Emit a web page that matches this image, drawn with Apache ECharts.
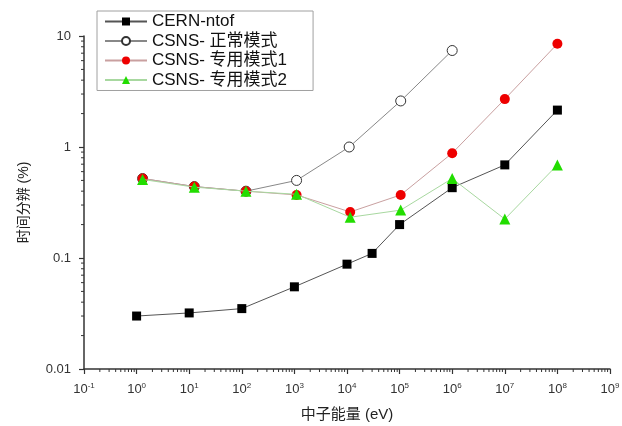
<!DOCTYPE html>
<html>
<head>
<meta charset="utf-8">
<script src="https://cdn.jsdelivr.net/npm/echarts@6/dist/echarts.min.js"></script>
<style>
  html, body { margin: 0; padding: 0; background: #fff; }
  #chart { width: 622px; height: 426px; }
</style>
</head>
<body>
<div id="chart"></div>
<script>
// Time resolution vs neutron energy
const seriesNames = ['CERN-ntof', 'CSNS- 正常模式', 'CSNS- 专用模式1', 'CSNS- 专用模式2'];

const energyCERN = [1, 10, 100, 1e3, 1e4, 3e4, 1e5, 1e6, 1e7, 1e8];
const resCERN = [0.030, 0.032, 0.035, 0.055, 0.088, 0.11, 0.20, 0.43, 0.69, 2.15];

const energyNormal = [1.3, 12.5, 120, 1.1e3, 1.1e4, 1.05e5, 1e6];
const resNormal = [0.52, 0.44, 0.40, 0.50, 1.0, 2.6, 7.4];

const energyDedicated = [1.3, 12.5, 120, 1.1e3, 1.15e4, 1.05e5, 1e6, 1e7, 1e8];
const resMode1 = [0.52, 0.44, 0.40, 0.37, 0.26, 0.37, 0.88, 2.7, 8.5];
const resMode2 = [0.51, 0.435, 0.40, 0.375, 0.233, 0.27, 0.52, 0.224, 0.69];

const xExponents = [-1, 0, 1, 2, 3, 4, 5, 6, 7, 8, 9];
const yTickLabels = { '0.01': '0.01', '0.1': '0.1', '1': '1', '10': '10' };

const xMin = 0.1, xMax = 1e9, yMin = 0.01, yMax = 10;

function pairs(xs, ys) { return xs.map((x, i) => [x, ys[i]]); }

// minor tick positions (2..9 × 10^n) for both log axes
function minorValues(lo, hi) {
  const out = [];
  for (let e = Math.round(Math.log10(lo)); e < Math.round(Math.log10(hi)); e++) {
    for (let k = 2; k <= 9; k++) out.push(k * Math.pow(10, e));
  }
  return out;
}
const xMinor = minorValues(xMin, xMax);
const yMinor = minorValues(yMin, yMax);

const chart = echarts.init(document.getElementById('chart'));
const FONT = 'Liberation Sans, Arial, sans-serif';
const CJK = '"Liberation Sans", "Noto Sans CJK SC", sans-serif';

chart.setOption({
  animation: false,
  backgroundColor: '#fff',
  grid: { left: 84, right: 12, top: 36, bottom: 57, outerBoundsMode: 'none', containLabel: false },
  legend: {
    data: seriesNames,
    orient: 'vertical',
    left: 97,
    top: 11,
    padding: [2, 26, 2, 7],
    itemWidth: 42,
    itemHeight: 10,
    itemGap: 2.5,
    borderColor: '#a0a0a0',
    borderWidth: 1,
    textStyle: { fontFamily: CJK, fontSize: 17, color: '#111' }
  },
  xAxis: {
    type: 'log',
    logBase: 10,
    min: xMin,
    max: xMax,
    interval: 1,
    name: '中子能量 (eV)',
    nameLocation: 'middle',
    nameGap: 38,
    nameTextStyle: { fontFamily: CJK, fontSize: 15, color: '#222' },
    axisLine: { lineStyle: { color: '#333', width: 1.5 } },
    axisTick: { inside: false, length: 5, lineStyle: { color: '#333', width: 1.2 } },
    splitLine: { show: false },
    axisLabel: {
      margin: 13,
      formatter: function (v) {
        const e = Math.round(Math.log10(v));
        return '{b|10}{s|' + e + '}';
      },
      rich: {
        b: { fontFamily: FONT, fontSize: 13, color: '#333' },
        s: { fontFamily: FONT, fontSize: 8, color: '#333', verticalAlign: 'top', padding: [0, 0, 6, 0] }
      }
    }
  },
  yAxis: {
    type: 'log',
    logBase: 10,
    min: yMin,
    max: yMax,
    interval: 1,
    name: '时间分辨 (%)',
    nameLocation: 'middle',
    nameGap: 53,
    nameRotate: 90,
    nameTextStyle: { fontFamily: CJK, fontSize: 14, color: '#222' },
    axisLine: { lineStyle: { color: '#333', width: 1.5 } },
    axisTick: { inside: false, length: 5, lineStyle: { color: '#333', width: 1.2 } },
    splitLine: { show: false },
    axisLabel: {
      margin: 13,
      fontFamily: FONT,
      fontSize: 13,
      color: '#333',
      formatter: function (v) {
        const key = String(Number(v.toPrecision(3)));
        return yTickLabels[key] !== undefined ? yTickLabels[key] : key;
      }
    }
  },
  series: [
    {
      name: seriesNames[0],
      type: 'line',
      data: pairs(energyCERN, resCERN),
      symbol: 'rect',
      symbolSize: 9,
      itemStyle: { color: '#000' },
      lineStyle: { color: '#555', width: 1 },
      z: 3
    },
    {
      name: seriesNames[1],
      type: 'line',
      data: pairs(energyNormal, resNormal),
      symbol: 'circle',
      symbolSize: 10,
      showAllSymbol: true,
      itemStyle: { color: '#fff', borderColor: '#333', borderWidth: 1 },
      lineStyle: { color: '#888', width: 1 },
      z: 4
    },
    {
      name: seriesNames[2],
      type: 'line',
      data: pairs(energyDedicated, resMode1),
      symbol: 'circle',
      symbolSize: 10,
      itemStyle: { color: '#ee0000' },
      lineStyle: { color: '#c9a0a0', width: 1 },
      z: 5
    },
    {
      name: seriesNames[3],
      type: 'line',
      data: pairs(energyDedicated, resMode2),
      symbol: 'triangle',
      symbolSize: 11,
      itemStyle: { color: '#22dd00' },
      lineStyle: { color: '#a8d8a0', width: 1 },
      z: 6
    },
    {
      // log-spaced minor ticks along the energy axis
      type: 'custom',
      silent: true,
      clip: false,
      z: 1,
      data: xMinor.map(v => [v, yMin]),
      renderItem: function (params, api) {
        const p = api.coord([api.value(0), api.value(1)]);
        return {
          type: 'line',
          shape: { x1: p[0], y1: p[1], x2: p[0], y2: p[1] + 3 },
          style: { stroke: '#333', lineWidth: 1 }
        };
      }
    },
    {
      // log-spaced minor ticks along the resolution axis
      type: 'custom',
      silent: true,
      clip: false,
      z: 1,
      data: yMinor.map(v => [xMin, v]),
      renderItem: function (params, api) {
        const p = api.coord([api.value(0), api.value(1)]);
        return {
          type: 'line',
          shape: { x1: p[0], y1: p[1], x2: p[0] - 3, y2: p[1] },
          style: { stroke: '#333', lineWidth: 1 }
        };
      }
    }
  ]
});
</script>
</body>
</html>
